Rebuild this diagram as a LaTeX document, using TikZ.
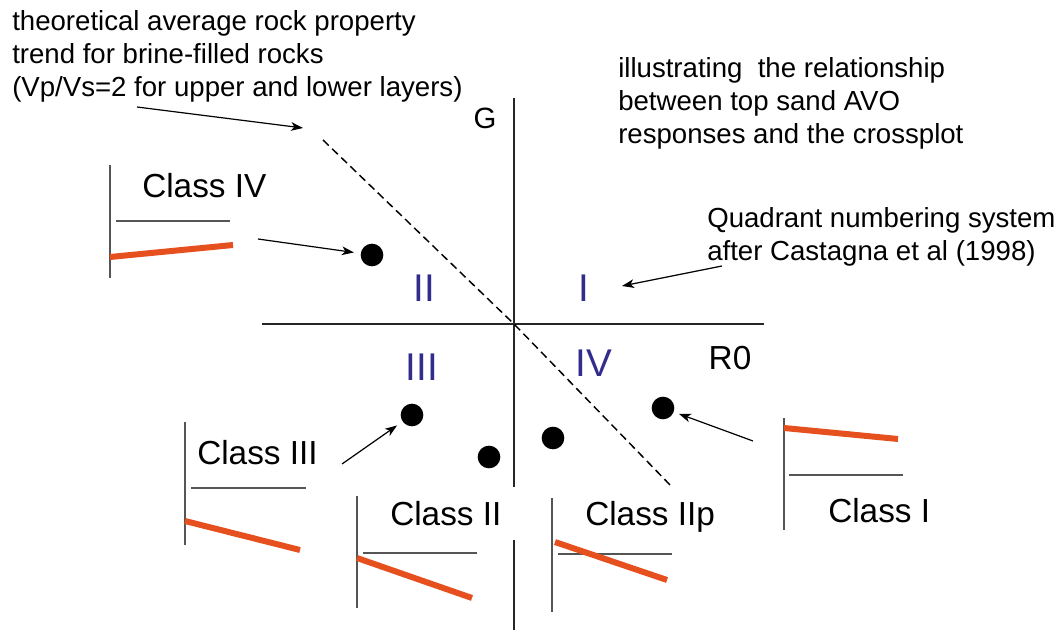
\documentclass[tikz,border=0pt]{standalone}
\usepackage{fontspec}
\setmainfont{Liberation Sans}
\usetikzlibrary{arrows.meta, positioning}
\definecolor{avored}{RGB}{230,80,30}
\definecolor{qblue}{RGB}{50,45,140}
\definecolor{lgray}{RGB}{85,85,85}

\begin{document}
\begin{tikzpicture}[
  x=0.75pt, y=-0.75pt,
  axis/.style={line width=1.2pt, color=black!85},
  trend/.style={line width=1.1pt, dash pattern=on 6pt off 3.5pt},
  panel/.style={line width=1.3pt, color=lgray},
  refl/.style={line width=1.4pt, color=lgray},
  resp/.style={line width=4.5pt, color=avored},
  dot/.style={circle, fill=black, inner sep=0pt, minimum size=17pt},
  arr/.style={-{Stealth[length=9pt, width=6.5pt, inset=2.5pt]}, line width=0.9pt},
  note/.style={align=left, inner sep=0pt, font=\fontsize{20.7}{25}\selectfont},
  cls/.style={anchor=base west, inner sep=0pt, font=\fontsize{25}{30}\selectfont},
  quad/.style={anchor=base, inner sep=0pt, color=qblue, font=\fontsize{29}{34}\selectfont}
]
  \useasboundingbox (0,0) rectangle (1059,634);

  % crossplot axes
  \coordinate (org) at (514,324);
  \draw[axis] (514,98) -- (514,487);
  \draw[axis] (514,540) -- (514,630);
  \draw[axis] (262,324) -- (764,324);
  \node[anchor=base, inner sep=0pt, font=\fontsize{22}{26}\selectfont] (gax) at (485,129) {G};
  \node[anchor=base, inner sep=0pt, font=\fontsize{25}{30}\selectfont] (rax) at (730,369) {R0};

  \node[quad] (q2) at (424,302) {II};
  \node[quad] (q1) at (584,302) {I};
  \node[quad] (q3) at (422,380) {III};
  \node[quad] (q4) at (594,376) {IV};

  % brine trend
  \coordinate (trend0) at (323,140);
  \coordinate (trend1) at (673,488);
  \draw[trend] (trend0) -- (org) -- (trend1);

  % notes
  \node[note, anchor=north west] (brine) at (12,10)
       {theoretical average rock property\\trend for brine-filled rocks\\(Vp/Vs=2 for upper and lower layers)};
  \coordinate (brinetail) at (137,107);
  \coordinate (brinetip) at (303,128);
  \draw[arr] (brinetail) -- (brinetip);

  \node[note, anchor=north west] (illus) at (618,57)
       {illustrating \ the relationship\\between top sand AVO\\responses and the crossplot};

  \node[note, anchor=north west] (castagna) at (707,207)
       {Quadrant numbering system\\after Castagna et al (1998)};
  \coordinate (qtail) at (722,266);
  \coordinate (qtip) at (622,286);
  \draw[arr] (qtail) -- (qtip);

  % class points
  \node[dot] (d4) at (372,255) {};
  \node[dot] (d3) at (412,415) {};
  \node[dot] (d2) at (489,457) {};
  \node[dot] (d2p) at (553,438) {};
  \node[dot] (d1) at (663,408) {};

  % Class IV
  \draw[panel] (110,165) -- (110,278);
  \draw[refl] (116,221) -- (230,221);
  \draw[resp] (110,257) -- (233,245);
  \node[cls] (c4) at (142,198) {Class IV};
  \coordinate (c4tail) at (258,239);
  \draw[arr, shorten >=5pt] (c4tail) -- (d4);

  % Class III
  \draw[panel] (185,422) -- (185,545);
  \draw[refl] (191,488) -- (306,488);
  \draw[resp] (185,521) -- (300,550);
  \node[cls] (c3) at (197,464) {Class III};
  \coordinate (c3tail) at (342,464);
  \draw[arr, shorten >=5pt] (c3tail) -- (d3);

  % Class II
  \draw[panel] (357,496) -- (357,608);
  \draw[refl] (363,553) -- (477,553);
  \draw[resp] (357,558) -- (472,598);
  \node[cls] (c2) at (390,525) {Class II};

  % Class IIp
  \draw[panel] (552,498) -- (552,612);
  \draw[refl] (558,554) -- (672,554);
  \draw[resp] (555,542) -- (667,580);
  \node[cls] (c2p) at (585,525) {Class IIp};

  % Class I
  \draw[panel] (784,418) -- (784,530);
  \draw[resp] (784,428) -- (898,439);
  \draw[refl] (789,475) -- (903,475);
  \node[cls] (c1) at (828,522) {Class I};
  \coordinate (c1tail) at (753,441);
  \draw[arr, shorten >=4pt] (c1tail) -- (d1);
\end{tikzpicture}
\end{document}
